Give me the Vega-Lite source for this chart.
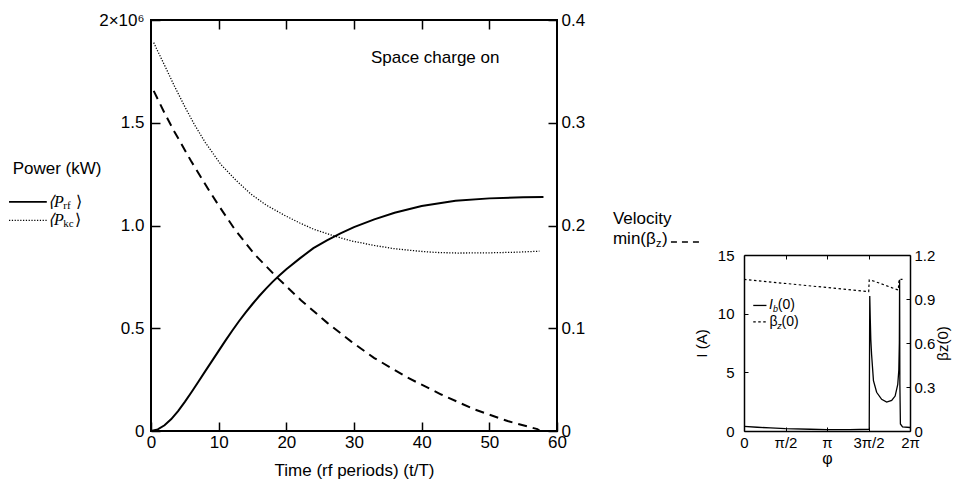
{
  "$schema": "https://vega.github.io/schema/vega-lite/v6.json",
  "background": "white",
  "padding": {"left": 7, "top": 10, "right": 5, "bottom": 4},
  "bounds": "flush",
  "spacing": 187,
  "config": {
    "font": "Liberation Sans",
    "view": {"stroke": null},
    "axis": {"labelFont": "Liberation Sans", "titleFont": "Liberation Sans", "labelColor": "black", "titleColor": "black", "domainColor": "black", "tickColor": "black", "grid": false, "titleFontWeight": "normal", "labelFlush": false, "labelOverlap": false},
    "text": {"color": "black", "font": "Liberation Sans"},
    "line": {"color": "black"},
    "rule": {"color": "black"}
  },
  "datasets": {
    "prf": [
      {"t": 0, "v": 0}, {"t": 1, "v": 8000}, {"t": 2, "v": 28000}, {"t": 3, "v": 58000}, {"t": 4, "v": 97000},
      {"t": 5, "v": 142000}, {"t": 6, "v": 190000}, {"t": 7, "v": 240000}, {"t": 8, "v": 290000}, {"t": 9, "v": 340000},
      {"t": 10, "v": 390000}, {"t": 11, "v": 440000}, {"t": 12, "v": 488000}, {"t": 13, "v": 534000}, {"t": 14, "v": 577000},
      {"t": 15, "v": 618000}, {"t": 16, "v": 657000}, {"t": 17, "v": 693000}, {"t": 18, "v": 727000}, {"t": 19, "v": 758000},
      {"t": 20, "v": 787000}, {"t": 22, "v": 840000}, {"t": 24, "v": 890000}, {"t": 26, "v": 928000}, {"t": 28, "v": 962000},
      {"t": 30, "v": 992000}, {"t": 33, "v": 1030000}, {"t": 36, "v": 1062000}, {"t": 40, "v": 1095000}, {"t": 45, "v": 1120000},
      {"t": 50, "v": 1132000}, {"t": 55, "v": 1137000}, {"t": 58, "v": 1139000}
    ],
    "pkc": [
      {"t": 0.4, "v": 1890000}, {"t": 1, "v": 1848000}, {"t": 2, "v": 1780000}, {"t": 3.44, "v": 1680000}, {"t": 5, "v": 1578000},
      {"t": 6.4, "v": 1492000}, {"t": 8, "v": 1405000}, {"t": 10.3, "v": 1298000}, {"t": 12.5, "v": 1222000}, {"t": 14.8, "v": 1152000},
      {"t": 17, "v": 1100000}, {"t": 19.7, "v": 1050000}, {"t": 22, "v": 1012000}, {"t": 24.1, "v": 981000},
      {"t": 27.1, "v": 949000}, {"t": 29.6, "v": 925000}, {"t": 33, "v": 903000}, {"t": 36, "v": 887000}, {"t": 39.9, "v": 874000},
      {"t": 42, "v": 869000}, {"t": 45.3, "v": 866000}, {"t": 50, "v": 867000}, {"t": 54, "v": 870000}, {"t": 57.4, "v": 875000}
    ],
    "beta": [
      {"t": 0.4, "v": 0.331}, {"t": 2, "v": 0.3095}, {"t": 3.44, "v": 0.2915}, {"t": 5.9, "v": 0.263}, {"t": 8.4, "v": 0.236},
      {"t": 10, "v": 0.2195}, {"t": 12.3, "v": 0.197}, {"t": 15.3, "v": 0.172}, {"t": 18.7, "v": 0.149}, {"t": 22.2, "v": 0.127},
      {"t": 26.1, "v": 0.105}, {"t": 29.6, "v": 0.087}, {"t": 33, "v": 0.071}, {"t": 37.9, "v": 0.052},
      {"t": 42.9, "v": 0.0355}, {"t": 47.8, "v": 0.021}, {"t": 52.7, "v": 0.0097}, {"t": 57.1, "v": 0.0018}, {"t": 57.5, "v": 0}
    ],
    "ib": [
      {"phi": 0, "I": 0.4}, {"phi": 0.5, "I": 0.32}, {"phi": 1, "I": 0.26}, {"phi": 1.57, "I": 0.2}, {"phi": 2.5, "I": 0.15},
      {"phi": 3.14, "I": 0.12}, {"phi": 4, "I": 0.12}, {"phi": 4.74, "I": 0.15}, {"phi": 4.76, "I": 11.5}, {"phi": 4.78, "I": 9.5},
      {"phi": 4.8, "I": 7.8}, {"phi": 4.83, "I": 6.5}, {"phi": 4.9, "I": 4.3}, {"phi": 5.02, "I": 3.3}, {"phi": 5.21, "I": 2.7},
      {"phi": 5.4, "I": 2.47}, {"phi": 5.59, "I": 2.61}, {"phi": 5.72, "I": 2.98}, {"phi": 5.82, "I": 3.98}, {"phi": 5.86, "I": 5.2},
      {"phi": 5.88, "I": 7.5}, {"phi": 5.89, "I": 12.9}, {"phi": 5.9, "I": 4}, {"phi": 5.92, "I": 0.6}, {"phi": 6, "I": 0.35},
      {"phi": 6.2832, "I": 0.3}
    ],
    "bz": [
      {"phi": 0, "b": 1.034}, {"phi": 4.72, "b": 0.95}, {"phi": 4.74, "b": 1.03}, {"phi": 4.9, "b": 1.023}, {"phi": 5.84, "b": 0.961},
      {"phi": 5.87, "b": 1.034}, {"phi": 6.0, "b": 1.034}
    ]
  },
  "hconcat": [
    {
      "width": 406,
      "height": 411,
      "view": {"stroke": "black", "strokeWidth": 2},
      "resolve": {"scale": {"y": "independent"}, "axis": {"x": "independent"}},
      "layer": [
        {
          "encoding": {
            "x": {"field": "t", "type": "quantitative", "scale": {"domain": [0, 60], "nice": false, "zero": false},
              "axis": {"orient": "bottom", "values": [0, 10, 20, 30, 40, 50, 60], "tickSize": -9, "tickWidth": 1.5, "labelPadding": 12, "labelFontSize": 17, "domain": false, "title": "Time (rf periods) (t/T)", "titleFontSize": 17, "titlePadding": 12}},
            "y": {"field": "v", "type": "quantitative", "scale": {"domain": [0, 2000000], "nice": false},
              "axis": {"orient": "left", "values": [0, 500000, 1000000, 1500000, 2000000], "tickSize": -9, "tickWidth": 1.5, "labelPadding": 16, "labelFontSize": 17, "domain": false, "title": null,
                "labelExpr": "datum.value == 0 ? '0' : datum.value == 2000000 ? '2×10⁶' : format(datum.value / 1000000, '.1f')"}}
          },
          "layer": [
            {"data": {"name": "prf"}, "mark": {"type": "line", "strokeWidth": 2, "color": "black"}},
            {"data": {"name": "pkc"}, "mark": {"type": "line", "strokeWidth": 1.3, "strokeDash": [1.2, 1.6], "color": "black"}},
            {"data": {"values": [{"t": -20.98, "t2": -15.4, "v": 1115000}]}, "mark": {"type": "rule", "strokeWidth": 1.6}, "encoding": {"x2": {"field": "t2"}}},
            {"data": {"values": [{"t": -20.98, "t2": -15.4, "v": 1025000}]}, "mark": {"type": "rule", "strokeWidth": 1.2, "strokeDash": [1.2, 1.6]}, "encoding": {"x2": {"field": "t2"}}},
            {"data": {"values": [{"t": -20.44, "v": 1275000, "txt": "Power (kW)"}, {"t": 32.5, "v": 1815000, "txt": "Space charge on"}]},
              "mark": {"type": "text", "align": "left", "baseline": "middle", "fontSize": 17}, "encoding": {"text": {"field": "txt"}}},
            {"data": {"values": [{"t": -15.22, "v": 1115000, "txt": "⟨P"}, {"t": -15.22, "v": 1025000, "txt": "⟨P"}]},
              "mark": {"type": "text", "align": "left", "baseline": "middle", "font": "Liberation Serif", "fontStyle": "italic", "fontSize": 16}, "encoding": {"text": {"field": "txt"}}},
            {"data": {"values": [{"t": -12.95, "v": 1115000, "txt": "rf"}, {"t": -12.95, "v": 1025000, "txt": "kc"}]},
              "mark": {"type": "text", "align": "left", "baseline": "middle", "font": "Liberation Serif", "fontSize": 11, "dy": 4}, "encoding": {"text": {"field": "txt"}}},
            {"data": {"values": [{"t": -11.1, "v": 1115000, "txt": "⟩"}, {"t": -11.2, "v": 1025000, "txt": "⟩"}]},
              "mark": {"type": "text", "align": "left", "baseline": "middle", "font": "Liberation Serif", "fontSize": 16}, "encoding": {"text": {"field": "txt"}}}
          ]
        },
        {
          "encoding": {
            "x": {"field": "t", "type": "quantitative", "scale": {"domain": [0, 60], "nice": false, "zero": false},
              "axis": {"orient": "top", "values": [10, 20, 30, 40, 50], "labels": false, "tickSize": -9, "tickWidth": 1.5, "domain": false, "title": null}},
            "y": {"field": "v", "type": "quantitative", "scale": {"domain": [0, 0.4], "nice": false},
              "axis": {"orient": "right", "values": [0, 0.1, 0.2, 0.3, 0.4], "tickSize": -9, "tickWidth": 1.5, "labelPadding": 13, "labelFontSize": 17, "domain": false, "title": null,
                "labelExpr": "datum.value == 0 ? '0' : format(datum.value, '.1f')"}}
          },
          "layer": [
            {"data": {"name": "beta"}, "mark": {"type": "line", "strokeWidth": 2, "strokeDash": [9, 6], "color": "black"}},
            {"data": {"values": [{"t": 68.27, "v": 0.2062, "txt": "Velocity"}, {"t": 68.27, "v": 0.1865, "txt": "min(β"}]},
              "mark": {"type": "text", "align": "left", "baseline": "middle", "fontSize": 17}, "encoding": {"text": {"field": "txt"}}},
            {"data": {"values": [{"t": 74.63, "v": 0.1865, "txt": "z"}]},
              "mark": {"type": "text", "align": "left", "baseline": "middle", "fontSize": 11, "dy": 5}, "encoding": {"text": {"field": "txt"}}},
            {"data": {"values": [{"t": 75.51, "v": 0.1865, "txt": ")"}]},
              "mark": {"type": "text", "align": "left", "baseline": "middle", "fontSize": 17}, "encoding": {"text": {"field": "txt"}}},
            {"data": {"values": [{"t": 76.84, "t2": 81.72, "v": 0.184}]}, "mark": {"type": "rule", "strokeWidth": 1.5, "strokeDash": [6, 5]}, "encoding": {"x2": {"field": "t2"}}}
          ]
        }
      ]
    },
    {
      "width": 166,
      "height": 411,
      "resolve": {"scale": {"y": "independent"}, "axis": {"x": "independent"}},
      "layer": [
        {
          "encoding": {
            "x": {"field": "phi", "type": "quantitative", "scale": {"domain": [0, 6.2832], "nice": false, "zero": false},
              "axis": {"orient": "bottom", "values": [0, 1.5708, 3.1416, 4.7124, 6.2832], "tickSize": -4, "labelPadding": 8, "labelFontSize": 15, "domainWidth": 1.5, "title": "φ", "titleFontSize": 16, "titlePadding": 0,
                "labelExpr": "datum.value < 0.1 ? '0' : datum.value < 2 ? 'π/2' : datum.value < 4 ? 'π' : datum.value < 5 ? '3π/2' : '2π'"}},
            "y": {"field": "I", "type": "quantitative", "scale": {"domain": [0, 15], "range": [411, 235], "nice": false},
              "axis": {"orient": "left", "values": [0, 5, 10, 15], "tickSize": -4, "labelPadding": 14, "labelFontSize": 15, "domainWidth": 1.5, "title": "I (A)", "titleFontSize": 15, "titlePadding": 8}}
          },
          "layer": [
            {"data": {"name": "ib"}, "mark": {"type": "line", "strokeWidth": 1.3, "color": "black"}},
            {"data": {"values": [{"phi": 0.35, "phi2": 0.85, "I": 10.7}]}, "mark": {"type": "rule", "strokeWidth": 1.3}, "encoding": {"x2": {"field": "phi2"}}},
            {"data": {"values": [{"phi": 0.35, "phi2": 0.85, "I": 9.3}]}, "mark": {"type": "rule", "strokeWidth": 1.2, "strokeDash": [2.5, 2.5]}, "encoding": {"x2": {"field": "phi2"}}},
            {"data": {"values": [{"phi": 0.95, "I": 10.7, "txt": "I"}]},
              "mark": {"type": "text", "align": "left", "baseline": "middle", "fontSize": 14, "fontStyle": "italic"}, "encoding": {"text": {"field": "txt"}}},
            {"data": {"values": [{"phi": 0.965, "I": 9.3, "txt": "β"}, {"phi": 1.28, "I": 10.7, "txt": "(0)"}, {"phi": 1.42, "I": 9.3, "txt": "(0)"}]},
              "mark": {"type": "text", "align": "left", "baseline": "middle", "fontSize": 14}, "encoding": {"text": {"field": "txt"}}},
            {"data": {"values": [{"phi": 1.1, "I": 10.7, "txt": "b"}, {"phi": 1.26, "I": 9.3, "txt": "z"}]},
              "mark": {"type": "text", "align": "left", "baseline": "middle", "fontSize": 9, "dy": 4, "fontStyle": "italic"}, "encoding": {"text": {"field": "txt"}}}
          ]
        },
        {
          "encoding": {
            "x": {"field": "phi", "type": "quantitative", "scale": {"domain": [0, 6.2832], "nice": false, "zero": false},
              "axis": {"orient": "top", "offset": -235, "values": [1.5708, 3.1416, 4.7124], "labels": false, "tickSize": -4, "domainWidth": 1.5, "title": null}},
            "y": {"field": "b", "type": "quantitative", "scale": {"domain": [0, 1.2], "range": [411, 235], "nice": false},
              "axis": {"orient": "right", "values": [0, 0.3, 0.6, 0.9, 1.2], "tickSize": -4, "labelPadding": 8, "labelFontSize": 15, "domainWidth": 1.5, "title": "βz(0)", "titleAngle": -90, "titleFontSize": 15, "titlePadding": 16,
                "labelExpr": "datum.value == 0 ? '0' : format(datum.value, '.1f')"}}
          },
          "layer": [
            {"data": {"name": "bz"}, "mark": {"type": "line", "strokeWidth": 1.2, "strokeDash": [2.5, 2.5], "color": "black"}}
          ]
        }
      ]
    }
  ]
}
